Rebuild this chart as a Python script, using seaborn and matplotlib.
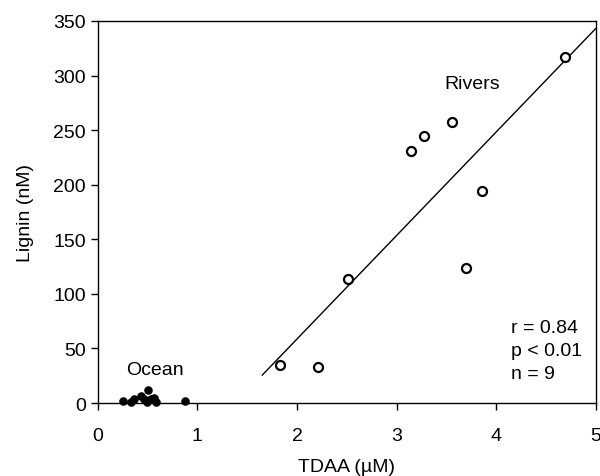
import numpy as np
import pandas as pd
import matplotlib
matplotlib.use("Agg")
import matplotlib.pyplot as plt
import seaborn as sns

# river samples (open circles)
river_tdaa = [1.83, 2.21, 2.51, 3.14, 3.28, 3.56, 3.70, 3.86, 4.69]
river_lignin = [35, 33, 114, 231, 245, 257, 124, 194, 317]

# ocean samples (filled dots)
ocean_tdaa = [0.25, 0.33, 0.36, 0.43, 0.46, 0.50, 0.49, 0.53, 0.56, 0.58, 0.88]
ocean_lignin = [2, 1, 4, 6, 4, 12, 1, 4, 5, 1, 2]

fit_range = [1.65, 5.0]
stats_lines = ["r = 0.84", "p < 0.01", "n = 9"]

sns.set_style("ticks")
plt.rcParams["font.family"] = ["Liberation Sans", "DejaVu Sans"]
for key in ["text.color", "axes.labelcolor", "xtick.color", "ytick.color"]:
    plt.rcParams[key] = "black"

rivers = pd.DataFrame({"tdaa": river_tdaa, "lignin": river_lignin})
ocean = pd.DataFrame({"tdaa": ocean_tdaa, "lignin": ocean_lignin})

fig = plt.figure(figsize=(6, 4.77), dpi=100)
ax = fig.add_axes([0.163, 0.153, 0.83, 0.801])

sns.scatterplot(data=rivers, x="tdaa", y="lignin", ax=ax, s=42,
                facecolor="white", edgecolor="black", linewidth=1.6, zorder=3)
sns.scatterplot(data=ocean, x="tdaa", y="lignin", ax=ax, s=38,
                color="black", edgecolor="black", linewidth=0, zorder=3,
                clip_on=False)

# least-squares line through the river points
slope, icpt = np.polyfit(rivers["tdaa"], rivers["lignin"], 1)
lx = np.array(fit_range)
sns.lineplot(x=lx, y=icpt + slope * lx, ax=ax, color="black", linewidth=1.0)

ax.text(3.76, 293, "Rivers", fontsize=14, ha="center", va="center")
ax.text(0.575, 31, "Ocean", fontsize=14, ha="center", va="center")
ax.text(4.15, 77, "\n".join(stats_lines), fontsize=14, ha="left", va="top",
        linespacing=1.45)

ax.set_xlim(0, 5)
ax.set_ylim(0, 350)
ax.set_xticks(range(0, 6))
ax.set_yticks(range(0, 351, 50))
ax.set_xlabel("TDAA (\u00b5M)", fontsize=14, labelpad=10)
ax.set_ylabel("Lignin (nM)", fontsize=14, labelpad=14)
ax.tick_params(labelsize=14, direction="out", length=5, width=1, color="black")
ax.tick_params(axis="x", pad=12)
for sp in ax.spines.values():
    sp.set_color("black")
    sp.set_linewidth(1.0)

fig.savefig("out.png", dpi=100)
